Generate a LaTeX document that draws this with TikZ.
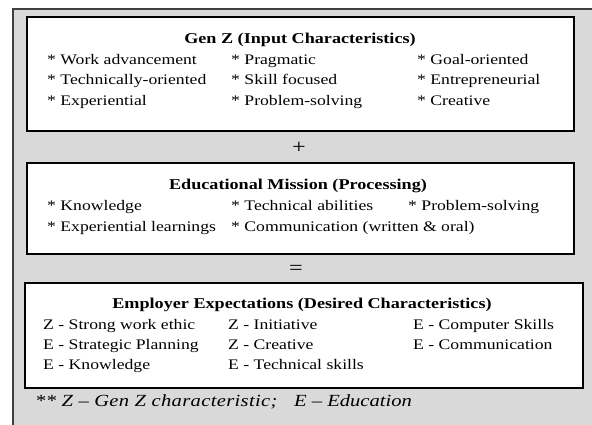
\documentclass[tikz,border=0pt]{standalone}
\usepackage{fontspec}
\setmainfont[FakeStretch=1.21]{Liberation Serif}
\usetikzlibrary{positioning}
\begin{document}
\begin{tikzpicture}[x=1pt,y=-1pt,
    item/.style={anchor=base west,inner sep=0pt,font=\fontsize{14.6}{17}\selectfont},
    head/.style={anchor=base,inner sep=0pt,font=\bfseries\fontsize{15}{17}\selectfont},
    note/.style={anchor=base west,inner sep=0pt,font=\itshape\fontsize{17}{19}\selectfont},
    panel/.style={draw=black,fill=white,line width=1.4pt}]

    \useasboundingbox (0,0) rectangle (592,424);

    \def\outerbox{(13,9) rectangle (600,432)}
    \def\genbox{(27,17) rectangle (574,131)}
    \def\edubox{(27,163) rectangle (574,254)}
    \def\empbox{(25,283) rectangle (583,388)}

    %background:
    \filldraw[fill=black!15,draw=black!75,line width=1.4pt] \outerbox;

    %draw boxes:
    \draw[panel] \genbox;
    \draw[panel] \edubox;
    \draw[panel] \empbox;

    %Gen Z:
    \node[head] (genz) at (300,43) {Gen Z (Input Characteristics)};
    \node[item] (g1) at (47,64) {* Work advancement};
    \node[item] (g2) at (47,84) {* Technically-oriented};
    \node[item] (g3) at (47,105) {* Experiential};
    \node[item] (g4) at (231,64) {* Pragmatic};
    \node[item] (g5) at (231,84) {* Skill focused};
    \node[item] (g6) at (231,105) {* Problem-solving};
    \node[item] (g7) at (417,64) {* Goal-oriented};
    \node[item] (g8) at (417,84) {* Entrepreneurial};
    \node[item] (g9) at (417,105) {* Creative};

    \node[inner sep=0pt,font=\fontsize{20}{20}\selectfont] (plus) at (299,148) {+};

    %Educational mission:
    \node[head] (edu) at (298,189) {Educational Mission (Processing)};
    \node[item] (e1) at (47,210) {* Knowledge};
    \node[item] (e2) at (47,231) {* Experiential learnings};
    \node[item] (e3) at (231,210) {* Technical abilities};
    \node[item] (e4) at (231,231) {* Communication (written \& oral)};
    \node[item] (e5) at (408,210) {* Problem-solving};

    \node[inner sep=0pt,font=\fontsize{20}{20}\selectfont] (equal) at (296,270) {=};

    %Employer expectations:
    \node[head] (emp) at (302,308) {Employer Expectations (Desired Characteristics)};
    \node[item] (x1) at (43,329) {Z - Strong work ethic};
    \node[item] (x2) at (43,349) {E - Strategic Planning};
    \node[item] (x3) at (43,369) {E - Knowledge};
    \node[item] (x4) at (228,329) {Z - Initiative};
    \node[item] (x5) at (228,349) {Z - Creative};
    \node[item] (x6) at (228,369) {E - Technical skills};
    \node[item] (x7) at (413,329) {E - Computer Skills};
    \node[item] (x8) at (413,349) {E - Communication};

    %footnote:
    \node[note] (note1) at (35,406) {\addfontfeature{LetterSpace=2}** Z -- Gen Z characteristic;};
    \node[note] (note2) at (294,406) {E -- Education};

\end{tikzpicture}
\end{document}
